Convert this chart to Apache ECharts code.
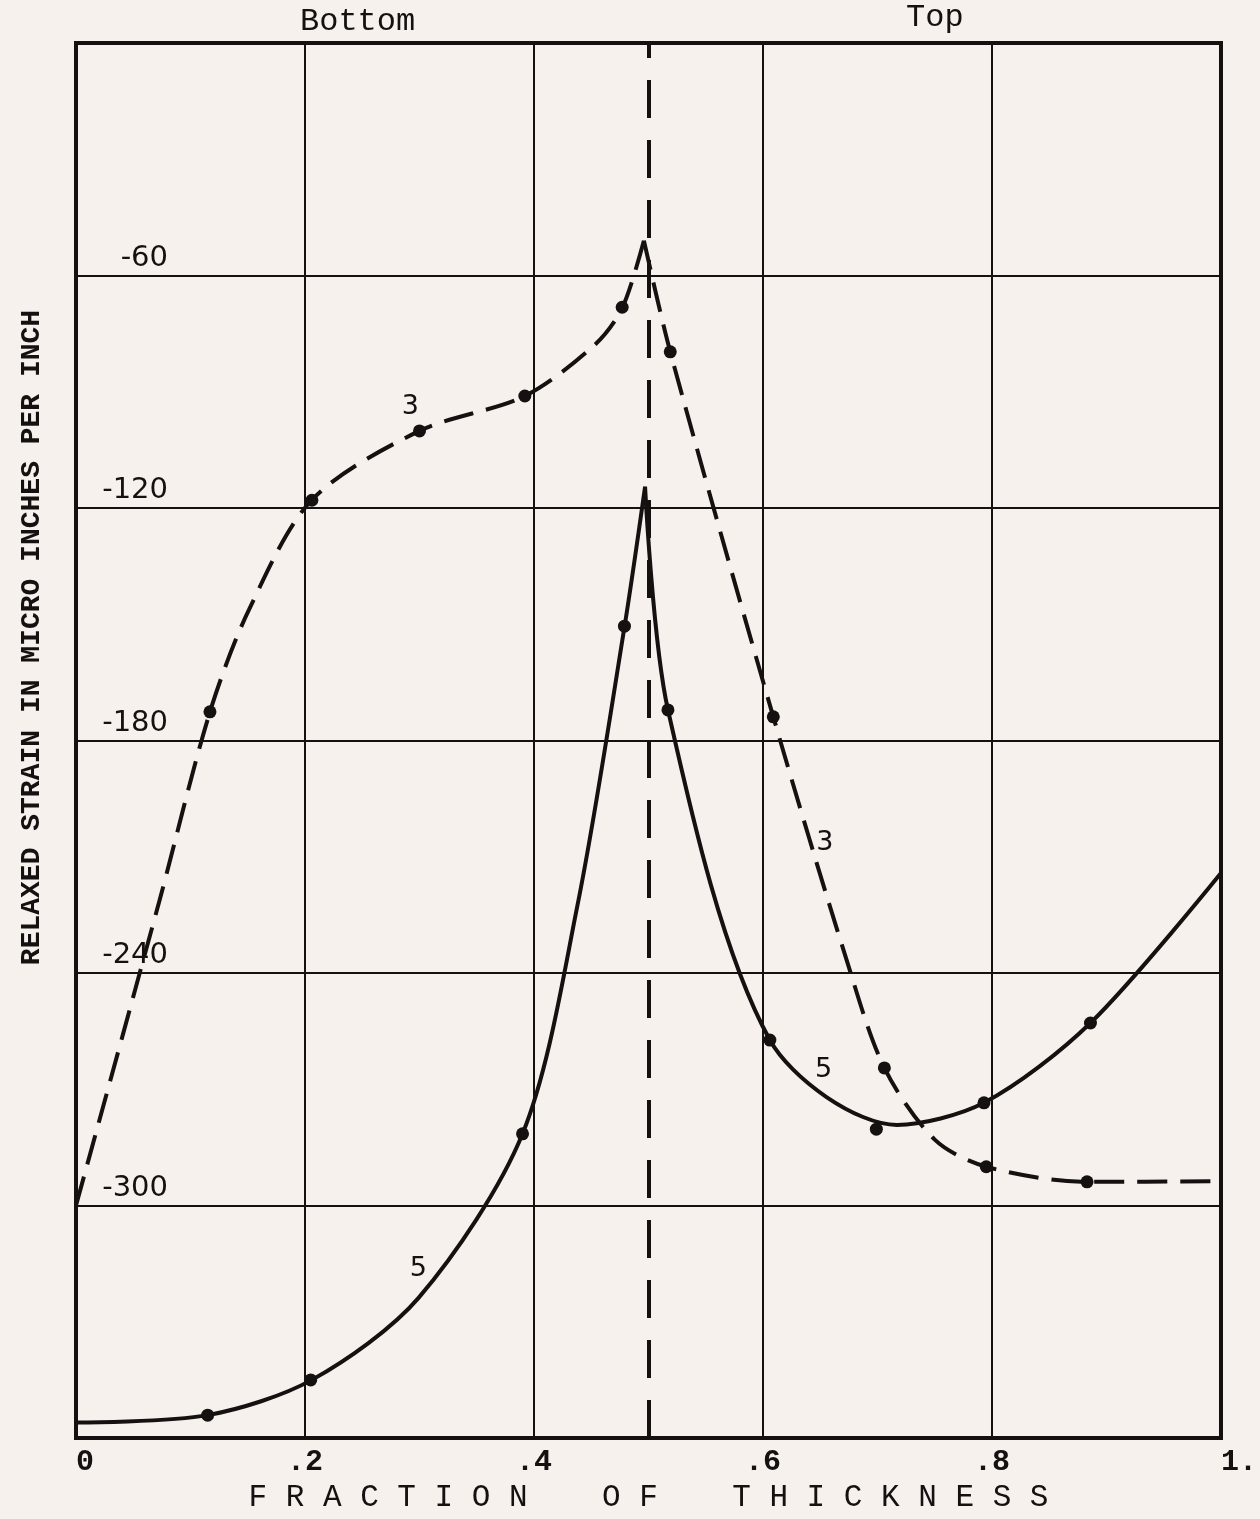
<!DOCTYPE html>
<html>
<head>
<meta charset="utf-8">
<title>Relaxed strain vs fraction of thickness</title>
<script src="https://cdn.jsdelivr.net/npm/echarts@6/dist/echarts.min.js"></script>
<style>
  html, body { margin: 0; padding: 0; background: #f6f1ec; }
  #chart { width: 1260px; height: 1519px; }
</style>
</head>
<body>
<div id="chart"></div>
<script>
// tick labels
const xTicks = [0, 0.2, 0.4, 0.6, 0.8, 1];
const xTickLabels = ['0', '.2', '.4', '.6', '.8', '1.'];
const yTicks = [-60, -120, -180, -240, -300];

// curve 3 (dashed), traced in two branches that meet at the peak
const curve3Left = [
  [0, -300], [0.073, -221.2], [0.117, -172.6], [0.151, -146.3], [0.206, -117.9],
  [0.3, -100.1], [0.392, -91.1], [0.453, -77.9], [0.477, -68.4], [0.496, -51]
];
const curve3Right = [
  [0.496, -51], [0.519, -79.7], [0.609, -173.9], [0.673, -236.6], [0.706, -264.5],
  [0.75, -283], [0.795, -290], [0.883, -293.9], [1, -293.7]
];
// measured points on curve 3
const curve3Points = [
  [0.117, -172.6], [0.206, -118], [0.3, -100.1], [0.392, -91.1], [0.477, -68.2],
  [0.519, -79.7], [0.609, -173.9], [0.706, -264.5], [0.795, -290], [0.883, -293.9]
];

// curve 5 (solid)
const curve5Left = [
  [0, -356], [0.115, -354.1], [0.206, -345], [0.299, -323.9], [0.39, -281.5],
  [0.438, -222.5], [0.479, -150.7], [0.497, -114.5]
];
const curve5Right = [
  [0.497, -114.5], [0.517, -172.1], [0.606, -257.3], [0.717, -279.2],
  [0.793, -273.5], [0.886, -252.9], [1, -214.2]
];
const curve5Points = [
  [0.115, -354.1], [0.205, -345], [0.39, -281.5], [0.479, -150.5], [0.517, -172.1],
  [0.606, -257.3], [0.699, -280.3], [0.793, -273.5], [0.886, -252.9]
];

// curve number tags
const curveLabelText = ['3', '3', '5', '5'];
const curveLabelX = [0.292, 0.654, 0.299, 0.653];
const curveLabelY = [-94, -206.5, -316.5, -265];

const midLine = 0.5;

const ink = '#141110';
const monoFont = '"Liberation Mono", "DejaVu Sans Mono", monospace';
const sansFont = '"DejaVu Sans", sans-serif';

const chart = echarts.init(document.getElementById('chart'));

function curveLine(data, dashed) {
  return {
    type: 'line',
    data,
    smooth: 0.3,
    showSymbol: false,
    silent: true,
    lineStyle: { color: ink, width: 4, type: dashed ? [30, 13] : 'solid', cap: 'butt' },
    z: 3
  };
}

function dots(data) {
  return {
    type: 'scatter',
    data,
    symbolSize: 13,
    itemStyle: { color: ink, opacity: 1 },
    silent: true,
    z: 4
  };
}

const option = {
  backgroundColor: '#f6f1ec',
  animation: false,
  grid: {
    left: 76,
    top: 43,
    width: 1150,
    height: 1395,
    show: true,
    borderColor: ink,
    borderWidth: 4,
    backgroundColor: 'transparent'
  },
  xAxis: {
    type: 'value',
    min: 0,
    max: 1,
    interval: 0.2,
    name: 'F R A C T I O N    O F    T H I C K N E S S',
    nameLocation: 'middle',
    nameGap: 44,
    nameTextStyle: { fontFamily: monoFont, fontSize: 31, color: ink },
    axisLine: { show: false },
    axisTick: { show: false },
    axisLabel: {
      margin: 9,
      fontFamily: monoFont,
      fontSize: 30,
      fontWeight: 'bold',
      color: ink,
      alignMinLabel: 'left',
      alignMaxLabel: 'left',
      formatter: (v) => {
        const i = xTicks.findIndex(t => Math.abs(t - v) < 1e-6);
        return i >= 0 ? xTickLabels[i] : '';
      }
    },
    splitLine: { lineStyle: { color: ink, width: 2 } }
  },
  yAxis: {
    type: 'value',
    min: -360,
    max: 0,
    interval: 60,
    name: 'RELAXED STRAIN IN MICRO INCHES PER INCH',
    nameLocation: 'middle',
    nameRotate: 90,
    nameGap: 30,
    nameTextStyle: {
      fontFamily: monoFont,
      fontWeight: 'bold',
      fontSize: 28,
      color: ink,
      padding: [0, 0, 0, 206]
    },
    axisLine: { show: false },
    axisTick: { show: false },
    axisLabel: {
      inside: true,
      align: 'right',
      verticalAlign: 'bottom',
      margin: 92,
      padding: [0, 0, 3, 0],
      fontFamily: sansFont,
      fontSize: 29,
      color: ink,
      formatter: (v) => (yTicks.includes(v) ? String(v) : '')
    },
    splitLine: { lineStyle: { color: ink, width: 2 } }
  },
  graphic: [
    {
      type: 'text',
      left: 300,
      top: 6,
      style: { text: 'Bottom', font: '32px ' + monoFont, fill: ink }
    },
    {
      type: 'text',
      left: 906,
      top: 2,
      style: { text: 'Top', font: '32px ' + monoFont, fill: ink }
    }
  ],
  series: [
    {
      type: 'line',
      data: [],
      silent: true,
      markLine: {
        silent: true,
        symbol: 'none',
        label: { show: false },
        lineStyle: { color: ink, width: 4, type: [38, 22] },
        data: [{ xAxis: midLine }]
      }
    },
    curveLine(curve3Left, true),
    curveLine(curve3Right, true),
    curveLine(curve5Left, false),
    curveLine(curve5Right, false),
    dots(curve3Points),
    dots(curve5Points),
    {
      type: 'scatter',
      symbolSize: 0,
      silent: true,
      itemStyle: { opacity: 1 },
      data: curveLabelText.map((t, i) => ({ name: t, value: [curveLabelX[i], curveLabelY[i]] })),
      label: {
        show: true,
        position: 'inside',
        formatter: '{b}',
        fontFamily: sansFont,
        fontSize: 27,
        color: ink,
        opacity: 1
      },
      z: 5
    }
  ]
};

chart.setOption(option);
</script>
</body>
</html>
